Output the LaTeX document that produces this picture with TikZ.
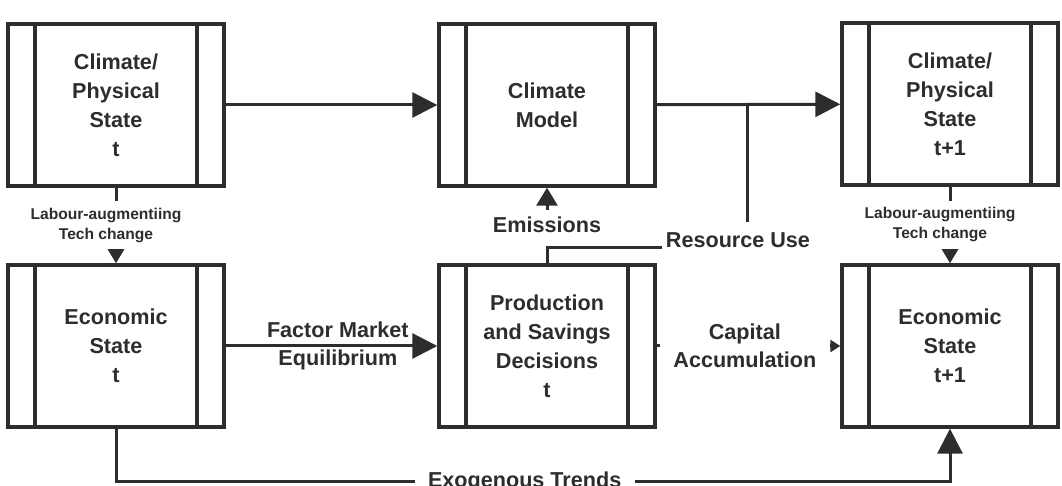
\documentclass[tikz,border=0pt]{standalone}
\usepackage{fontspec}
\setmainfont{Liberation Sans}
\usetikzlibrary{arrows.meta,positioning}
\definecolor{ink}{RGB}{45,45,45}

\begin{document}
\begin{tikzpicture}[
  x=0.5pt, y=-0.5pt,
  proc/.style={draw=ink, line width=1.7pt, minimum width=108pt, minimum height=81pt,
               align=center, text=ink, font=\fontsize{10.8}{14.5}\selectfont\bfseries,
               path picture={
                 \draw[ink, line width=1.7pt]
                   ([xshift=13.5pt]path picture bounding box.south west) -- ([xshift=13.5pt]path picture bounding box.north west)
                   ([xshift=-13.5pt]path picture bounding box.south east) -- ([xshift=-13.5pt]path picture bounding box.north east);}},
  lbl/.style={text=ink, align=center, font=\fontsize{10.8}{14}\selectfont\bfseries},
  tinylbl/.style={text=ink, align=center, font=\fontsize{7.8}{10}\selectfont\bfseries},
  link/.style={ink, line width=1.5pt},
  flow/.style={link, -{Triangle[length=12.5pt,width=12.5pt]}},
  midflow/.style={link, -{Triangle[length=9pt,width=10.5pt]}},
  smallflow/.style={link, -{Triangle[length=7.5pt,width=8.5pt]}},
  tinyflow/.style={link, -{Triangle[length=5pt,width=6pt]}}
]
\useasboundingbox (0,0) rectangle (1062,486);

%% Top row: climate side
\node[proc] (clim0) at (116,105) {Climate/\\Physical\\State\\t};
\node[proc] (model) at (547,105) {Climate\\Model};
\node[proc] (clim1) at (950,104) {Climate/\\Physical\\State\\t+1};

%% Bottom row: economy side
\node[proc] (econ0) at (116,346) {Economic\\State\\t};
\node[proc] (prod)  at (547,346) {Production\\and Savings\\Decisions\\t};
\node[proc] (econ1) at (950,346) {Economic\\State\\t+1};

%% Climate arrows
\draw[flow] (clim0) -- (model);
\draw[flow] (model) -- (clim1);
\coordinate (jn) at (747,105);

%% Emissions and resource use
\node[lbl] (emis) at (547,225) {Emissions};
\draw[midflow] (emis) -- (model);
\node[lbl, inner xsep=2pt, inner ysep=5pt] (res) at (738,240) {Resource Use};
\draw[link] (prod.north) |- (res.base west);
\draw[link] (res.north -| jn) -- (jn);

%% Tech change
\draw[smallflow] (clim0) -- node[tinylbl, fill=white, minimum height=24pt, xshift=-5pt]{Labour-augmentiing\\Tech change} (econ0);
\draw[smallflow] (clim1) -- node[tinylbl, fill=white, minimum height=24pt, xshift=-5pt]{Labour-augmentiing\\Tech change} (econ1);

%% Economy arrows
\draw[flow] (econ0) -- node[lbl, pos=.53]{Factor Market\\Equilibrium} (prod);
\draw[tinyflow] (prod) -- node[lbl, fill=white, minimum width=85pt, pos=.48]{Capital\\Accumulation} (econ1);
\draw[flow] (econ0.south) -- ++(0,53) -| node[lbl, fill=white, pos=.245, minimum width=110pt]{Exogenous Trends} (econ1.south);
\end{tikzpicture}
\end{document}
